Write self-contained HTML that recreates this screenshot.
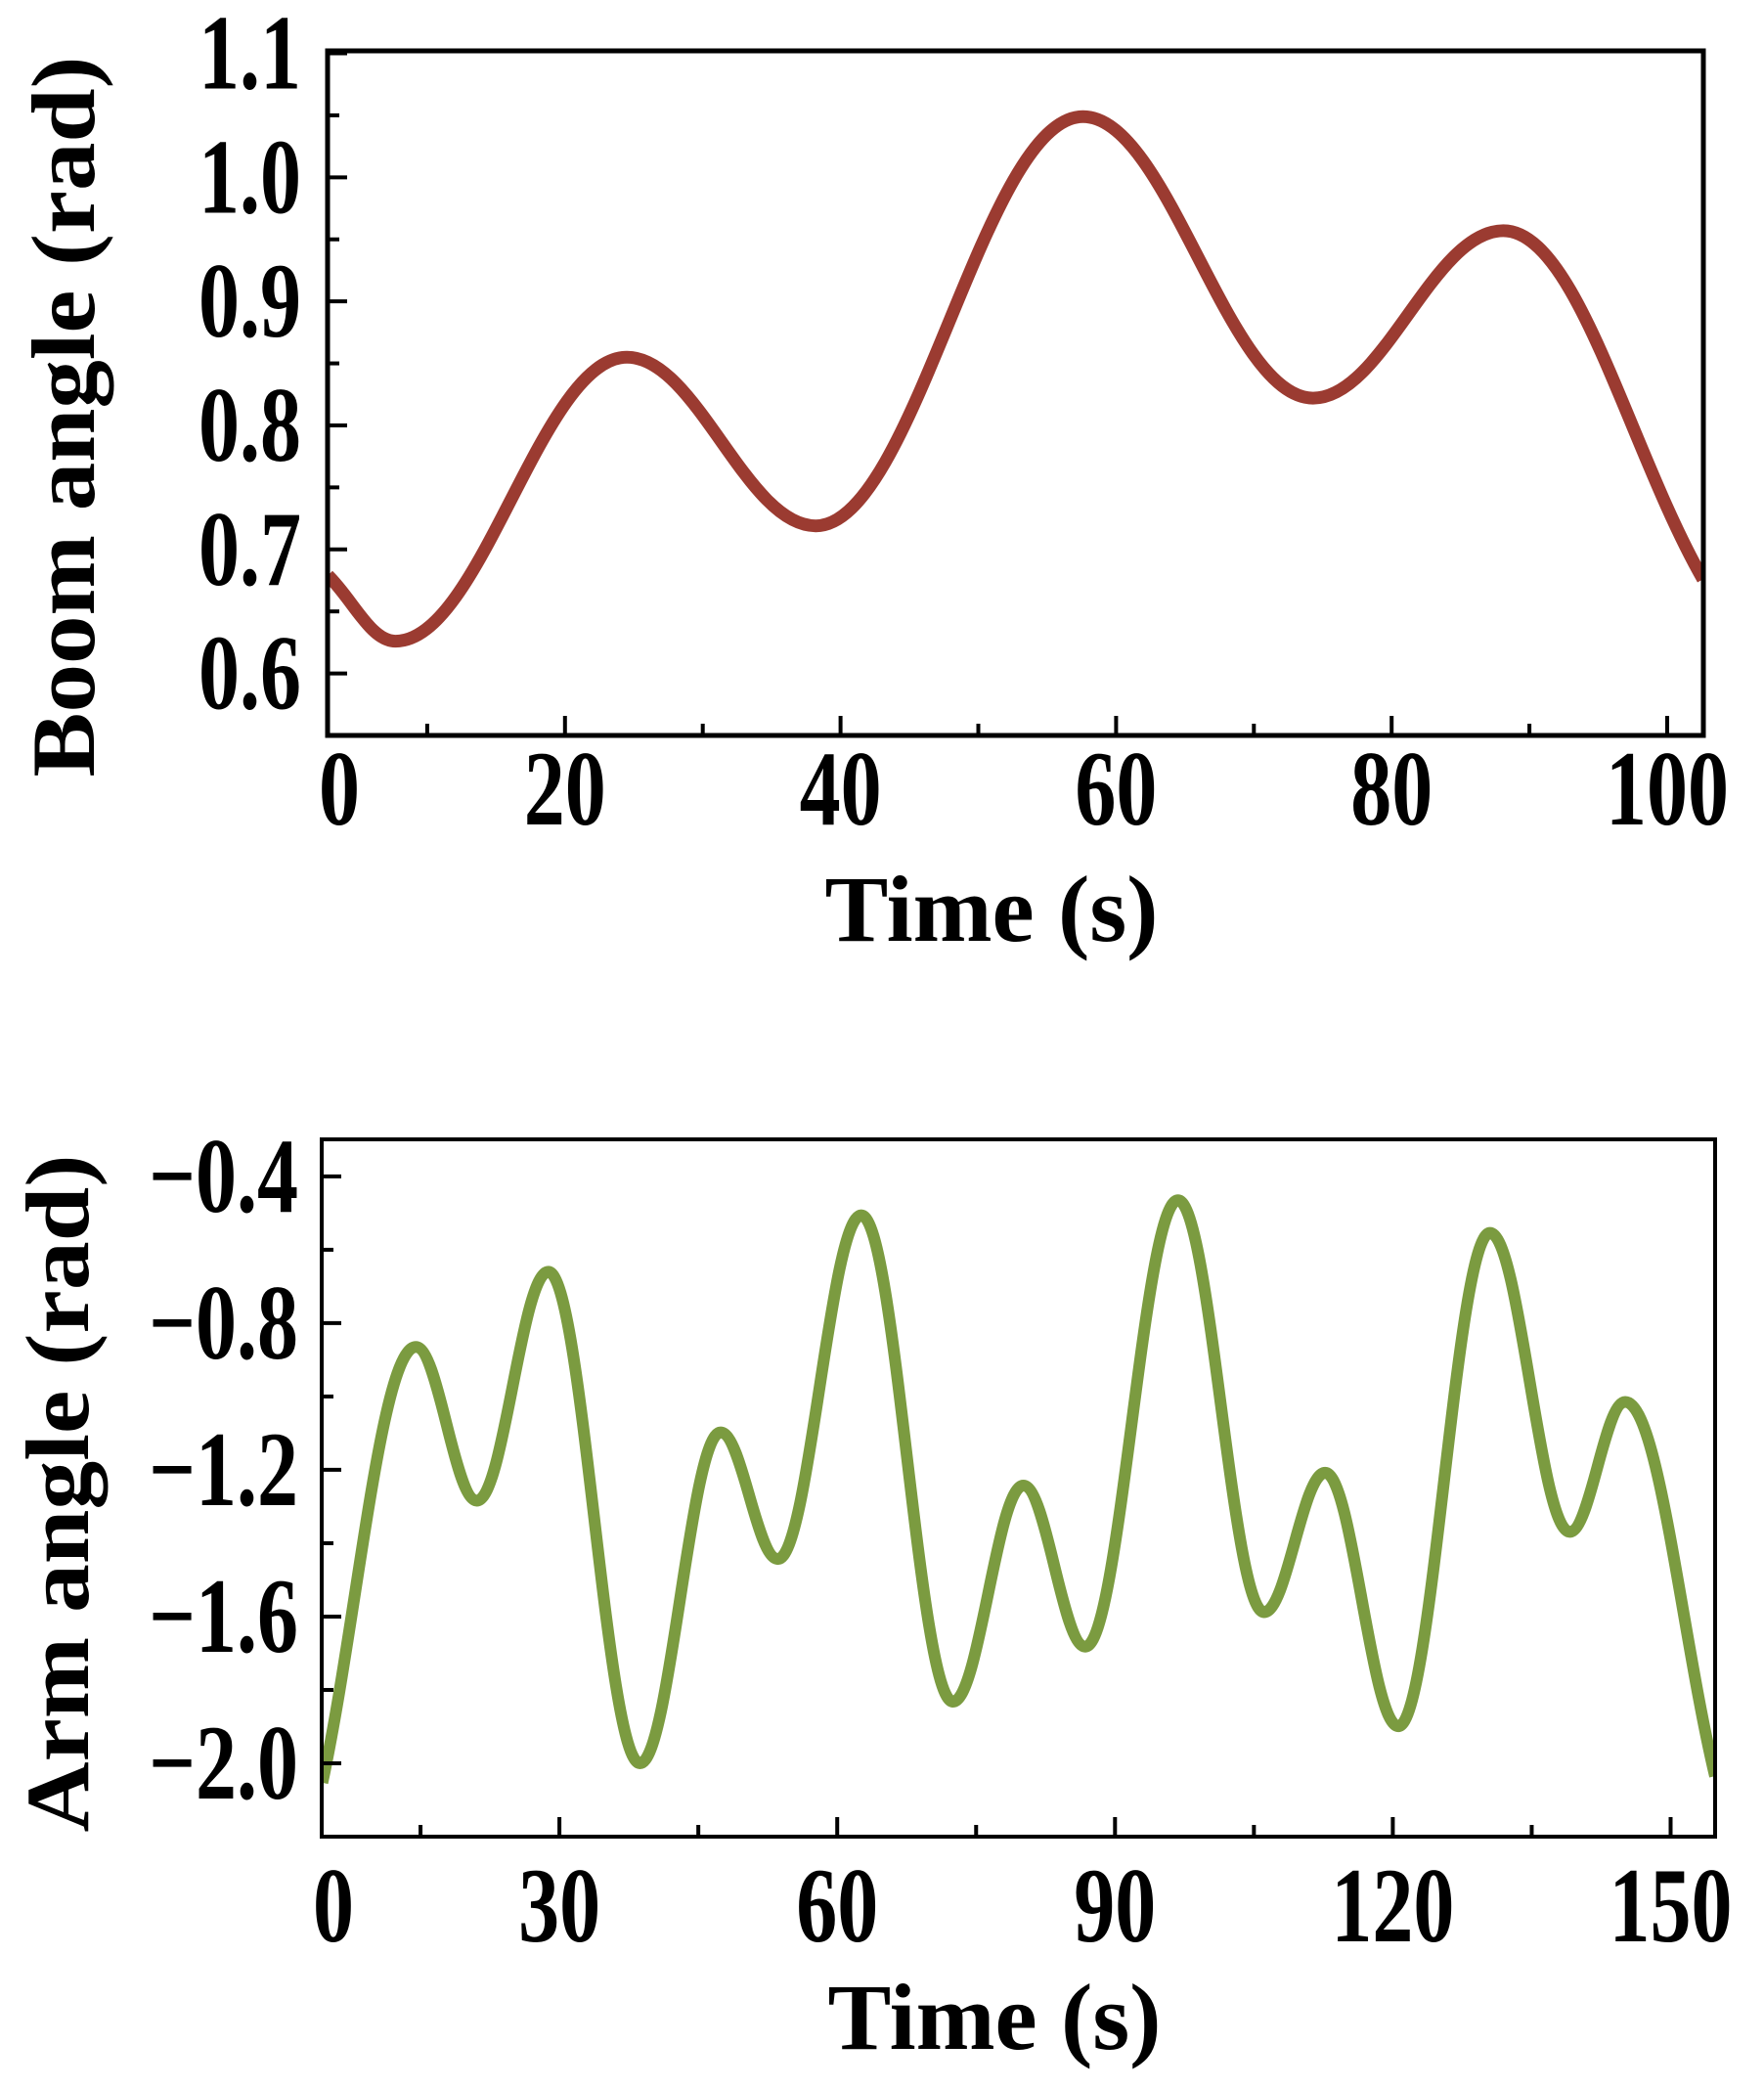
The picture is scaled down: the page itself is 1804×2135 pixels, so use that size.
<!DOCTYPE html>
<html><head><meta charset="utf-8"><style>
html,body{margin:0;padding:0;background:#fff;}
svg{display:block;font-family:"Liberation Serif",serif;font-weight:bold;}
</style></head><body>
<svg id="fig" width="1804" height="2135" viewBox="0 0 1804 2135"></svg>
<script>
// Top chart data (boom angle)
const boomTimes=[2.8,7.7,24.5,38.2,57.6,74.3,88.1,102.6];
const boomValues=[0.679,0.626,0.855,0.719,1.049,0.822,0.957,0.676];
const boomYTicks=[0.6,0.7,0.8,0.9,1.0,1.1];
const boomYTickLabels=["0.6","0.7","0.8","0.9","1.0","1.1"];
const boomXTicks=[0,20,40,60,80,100];
const boomXTickLabels=["0","20","40","60","80","100"];
// Bottom chart data (arm angle)
const armTimes=[4.4,14.5,21.1,28.8,38.7,47.4,53.6,62.6,72.5,80.1,86.8,96.8,106.1,112.7,120.6,130.5,139.1,145.1,154.8];
const armValues=[-2.053,-0.865,-1.284,-0.660,-2.000,-1.098,-1.443,-0.506,-1.832,-1.243,-1.682,-0.465,-1.588,-1.208,-1.899,-0.554,-1.369,-1.015,-2.035];
const armYTicks=[-0.4,-0.8,-1.2,-1.6,-2.0];
const armYTickLabels=["\u22120.4","\u22120.8","\u22121.2","\u22121.6","\u22122.0"];
const armXTicks=[0,30,60,90,120,150];
const armXTickLabels=["0","30","60","90","120","150"];

const NS="http://www.w3.org/2000/svg";
const svg=document.getElementById('fig');
function mk(tag,attrs,parent){const e=document.createElementNS(NS,tag);for(const k in attrs)e.setAttribute(k,attrs[k]);(parent||svg).appendChild(e);return e;}

function drawChart(o){
  const g=mk('g',{});
  
  
  const L=o.left,R=o.right,T=o.top,B=o.bottom;
  const xs=t=>o.x0+(t)*o.xk;
  const ys=v=>T+(o.yMax-v)/(o.yMax-o.yMin)*(B-T);
  let d='M'+xs(o.times[0])+','+ys(o.vals[0]);
  for(let i=1;i<o.times.length;i++){
    const x0=xs(o.times[i-1]),y0=ys(o.vals[i-1]),x1=xs(o.times[i]),y1=ys(o.vals[i]);
    const dx=(x1-x0)*0.37;
    let c1y=y0,c2y=y1;
    if(i===1){c1y=y0+(y1-y0)*0.37;}
    if(i===o.times.length-1){c2y=y1-(y1-y0)*0.37;}
    d+=' C'+(x0+dx)+','+c1y+' '+(x1-dx)+','+c2y+' '+x1+','+y1;
  }
  const cp=mk('clipPath',{id:o.name+'-clip'},g);
  mk('rect',{x:L,y:T,width:R-L,height:B-T},cp);
  const line=mk('path',{d:d,fill:'none',stroke:o.color,'stroke-width':o.lw,'stroke-linejoin':'round','clip-path':'url(#'+o.name+'-clip)'},g);
  
  
  const fr=mk('rect',{x:L,y:T,width:R-L,height:B-T,fill:'none',stroke:'#000','stroke-width':o.aw},g);
  
  
  o.yTicks.forEach((v,i)=>{
    const y=ys(v);
    mk('line',{x1:L,x2:L+20,y1:y,y2:y,stroke:'#000','stroke-width':4},g);
    if(i<o.yTicks.length-1){const ym=ys((v+o.yTicks[i+1])/2);if(ym>T)mk('line',{x1:L,x2:L+12,y1:ym,y2:ym,stroke:'#000','stroke-width':4},g);}
    const t=mk('text',{x:0,y:0,'text-anchor':'end','font-size':o.fs,transform:'translate('+o.yLabelX+','+(y+36)+') scale(1,1.3)'},g);
    t.textContent=o.yLabels[i];
    
    
  });
  const step=o.xTicks[1]-o.xTicks[0];
  for(let t=o.xTicks[0];t<=o.xTicks[o.xTicks.length-1]+1e-9;t+=step/2){
    const x=xs(t); if(x<=L+2||x>=R-2)continue;
    const major=Math.abs(t/step-Math.round(t/step))<1e-6;
    mk('line',{x1:x,x2:x,y1:B,y2:B-(major?20:12),stroke:'#000','stroke-width':4},g);
  }
  o.xTicks.forEach((v,i)=>{
    let x=xs(v); x=Math.max(x,L+12); x=Math.min(x,R-30);
    const t=mk('text',{x:0,y:0,'text-anchor':'middle','font-size':o.fs,transform:'translate('+x+','+o.xLabelY+') scale(1,1.3)'},g);
    t.textContent=o.xLabels[i];
    
    
  });
  const xt=mk('text',{x:o.xTitleX,y:o.xTitleY,'text-anchor':'middle','font-size':96,textLength:341,lengthAdjust:'spacingAndGlyphs'},g);
  xt.textContent='Time (s)';
  
  
  const yt=mk('text',{x:0,y:0,'text-anchor':'middle','font-size':92,textLength:o.yTitleLen,lengthAdjust:'spacingAndGlyphs',transform:'translate('+(o.yTitleX)+','+o.yTitleY+') rotate(-90)'},g);
  yt.textContent=o.yTitle;
  
  
}

drawChart({name:'boom-chart',left:335,right:1742,top:52,bottom:752,x0:296,xk:14.09,yMin:0.55,yMax:1.102,
  times:boomTimes,vals:boomValues,color:'#9b3b31',lw:13,aw:5,
  yTicks:boomYTicks,yLabels:boomYTickLabels,xTicks:boomXTicks,xLabels:boomXTickLabels,
  fs:84,yLabelX:308,xLabelY:843,xTitleX:1014,xTitleY:962,yTitle:'Boom angle (rad)',yTitleX:96,yTitleY:426,yTitleLen:737});
drawChart({name:'arm-chart',left:329,right:1754,top:1165,bottom:1878,x0:288,xk:9.47,yMin:-2.2,yMax:-0.299,
  times:armTimes,vals:armValues,color:'#7b9b40',lw:12,aw:4,
  yTicks:armYTicks,yLabels:armYTickLabels,xTicks:armXTicks,xLabels:armXTickLabels,
  fs:84,yLabelX:305,xLabelY:1985,xTitleX:1017,xTitleY:2095,yTitle:'Arm angle (rad)',yTitleX:90,yTitleY:1527,yTitleLen:693});
</script>
</body></html>
